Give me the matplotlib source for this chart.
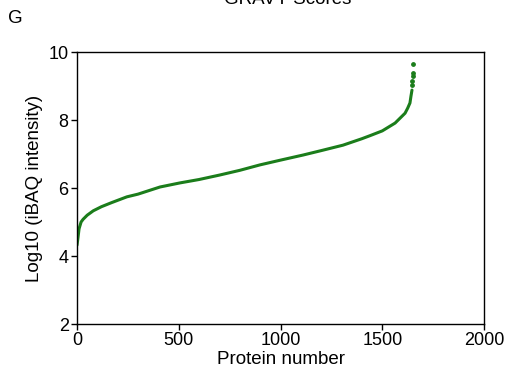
import numpy as np
import matplotlib.pyplot as plt

plt.rcParams['font.family'] = ['Liberation Sans', 'DejaVu Sans']

# protein rank vs log10 iBAQ intensity
rank = [0, 5, 10, 20, 30, 50, 80, 120, 170, 245, 300, 408, 457, 506, 600,
        700, 800, 899, 1000, 1111, 1200, 1307, 1400, 1440, 1500, 1563, 1612,
        1625, 1636, 1641, 1646]
log_ibaq = [4.32, 4.55, 4.8, 5.0, 5.08, 5.2, 5.33, 5.45, 5.57, 5.74, 5.82,
            6.03, 6.09, 6.15, 6.25, 6.38, 6.52, 6.68, 6.82, 6.97, 7.1, 7.26,
            7.45, 7.54, 7.68, 7.91, 8.2, 8.35, 8.5, 8.7, 8.88]
# the sparse points at the very top
tail_rank = [1647, 1648, 1649, 1650, 1652]
tail_val = [9.03, 9.15, 9.29, 9.38, 9.65]

green = '#1b7d1b'

fig = plt.figure(figsize=(5.08, 3.81), dpi=100)
ax = fig.add_axes([0.1516, 0.1496, 0.8012, 0.7139])

ax.plot(rank, log_ibaq, color=green, lw=2.2, solid_capstyle='round')
ax.scatter(tail_rank, tail_val, color=green, s=6, zorder=3)

ax.set_xlim(0, 2000)
ax.set_ylim(2, 10)
ax.set_xticks([0, 500, 1000, 1500, 2000])
ax.set_yticks([2, 4, 6, 8, 10])
ax.tick_params(direction='out', length=4, width=1, labelsize=13, pad=2)
for s in ax.spines.values():
    s.set_linewidth(1)
ax.set_xlabel('Protein number', fontsize=13.5, labelpad=1)
ax.set_ylabel('Log10 (iBAQ intensity)', fontsize=13.5, labelpad=4)

fig.text(0.567, 1.0, 'GRAVY Scores', ha='center', va='center', fontsize=13.5)
fig.text(0.016, 0.952, 'G', ha='left', va='center', fontsize=13.5)

fig.savefig('out.png', dpi=100)
